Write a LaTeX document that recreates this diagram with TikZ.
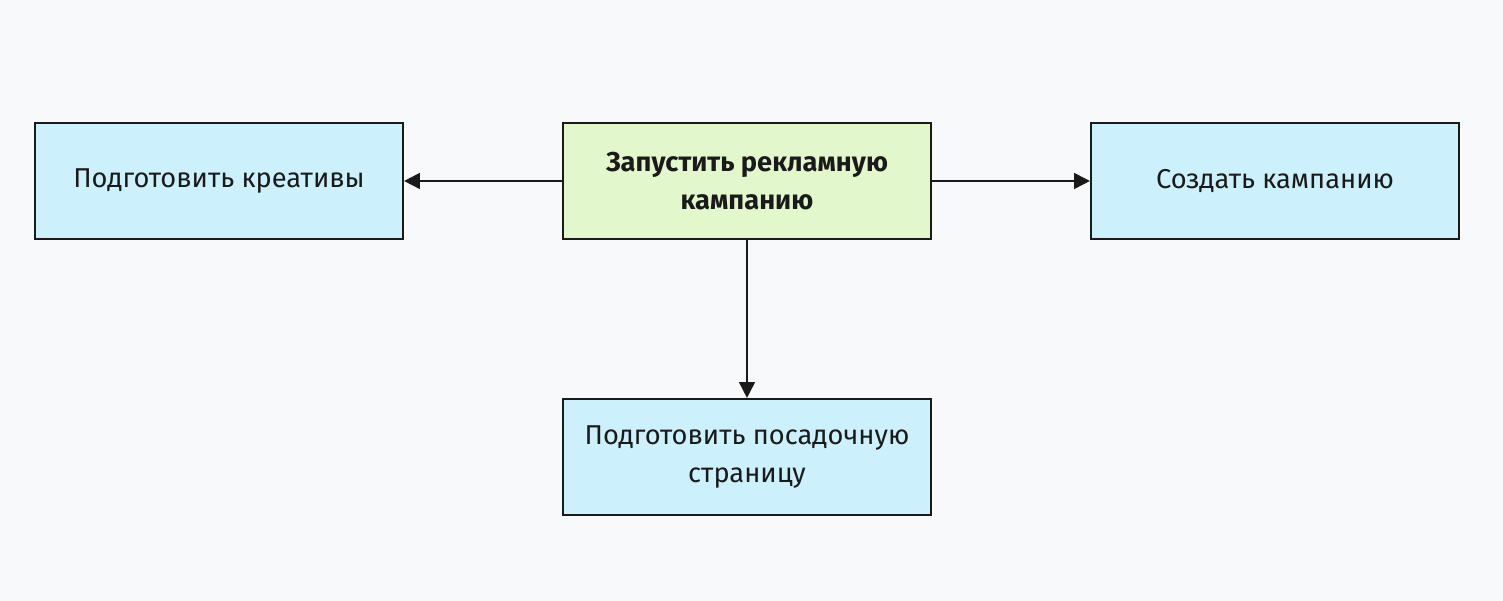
\documentclass[tikz,border=0pt]{standalone}
\usepackage{fontspec}
\setmainfont{Fira Sans}
\usetikzlibrary{arrows.meta}
\definecolor{bg}{HTML}{F8F9FB}
\definecolor{bluef}{HTML}{CCF0FC}
\definecolor{greenf}{HTML}{E2F7CC}
\definecolor{ln}{HTML}{1A1A1A}
\tikzset{
 box/.style={draw=ln, line width=1.2pt, minimum width=7.36cm, minimum height=2.32cm, align=center, font=\fontsize{15.5}{22}\selectfont, text=ln},
 arr/.style={draw=ln, line width=1pt, -{Triangle[length=9pt,width=9pt]}}
}
\begin{document}
\begin{tikzpicture}
\fill[bg] (0,0) rectangle (30.06,12.02);
\useasboundingbox (0,0) rectangle (30.06,12.02);
\node[box, fill=greenf, font=\fontsize{15.5}{22}\selectfont\bfseries] (c) at (14.94,8.40) {Запустить рекламную\\кампанию};
\node[box, fill=bluef] (l) at (4.38,8.40) {Подготовить креативы};
\node[box, fill=bluef] (r) at (25.50,8.40) {Создать кампанию};
\node[box, fill=bluef] (b) at (14.94,2.88) {Подготовить посадочную\\страницу};
\draw[arr] (c) -- (l);
\draw[arr] (c) -- (r);
\draw[arr] (c) -- (b);
\end{tikzpicture}
\end{document}
